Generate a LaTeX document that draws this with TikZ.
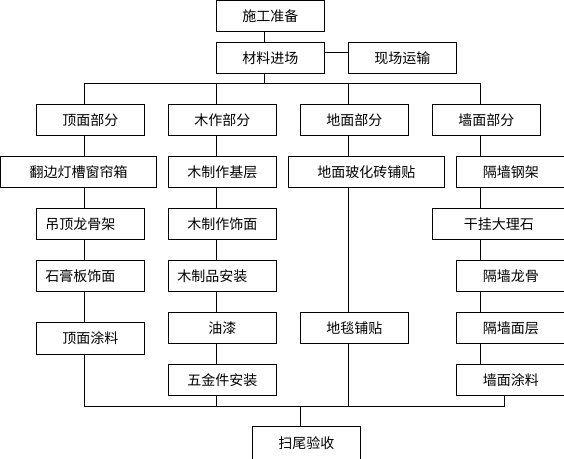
\documentclass[tikz,border=0pt]{standalone}
\usepackage{fontspec}
\setmainfont{Noto Sans CJK SC}
\tikzset{
  box/.style={draw, line width=1pt, inner sep=0pt, font=\fontsize{14}{16}\selectfont},
  lbox/.style={box, text width=90pt, align=left, inner xsep=9pt},
  conn/.style={line width=1pt}
}
% \bx[style]{name}{left}{top}{right}{bottom}{text}
\newcommand{\bx}[7][box]{%
  \node[#1, minimum width={(#5-#3)*1pt}, minimum height={(#6-#4)*1pt}]
    (#2) at ({(#3+#5)/2},{(#4+#6)/2}) {#7};}
\begin{document}
\begin{tikzpicture}[x=1pt,y=-1pt]
\useasboundingbox (0,0) rectangle (564,458);
\begin{scope}
\clip (0,0) rectangle (564,458);
% top
\bx{A}{216.3}{0.6}{324.3}{31.3}{施工准备}
\bx{B}{216.3}{42.3}{324.3}{73.3}{材料进场}
\bx{C}{348.3}{42.3}{456.3}{73.3}{现场运输}
% row 2
\bx{D1}{36.3}{104.3}{144.3}{135.3}{顶面部分}
\bx{D2}{168.3}{104.3}{276.3}{135.3}{木作部分}
\bx{D3}{300.3}{104.3}{408.3}{135.3}{地面部分}
\bx{D4}{432.3}{104.3}{540.3}{135.3}{墙面部分}
% row 3
\bx{E1}{0.6}{156.3}{156.7}{187.3}{翻边灯槽窗帘箱}
\bx{E2}{168.3}{156.3}{276.3}{187.3}{木制作基层}
\bx{E3}{288.3}{156.3}{444.3}{187.3}{地面玻化砖铺贴}
\bx{E4}{456.3}{156.3}{565.5}{187.3}{隔墙钢架}
% row 4
\bx[lbox]{F1}{36.3}{208.3}{144.3}{239.3}{吊顶龙骨架}
\bx{F2}{168.3}{208.3}{276.3}{239.3}{木制作饰面}
\bx{F4}{432.3}{208.3}{565.5}{239.3}{干挂大理石}
% row 5
\bx[lbox]{G1}{36.3}{260.3}{144.3}{291.3}{石膏板饰面}
\bx[lbox]{G2}{168.3}{260.3}{276.3}{291.3}{木制品安装}
\bx{G4}{456.3}{260.3}{565.5}{291.3}{隔墙龙骨}
% row 6
\bx{H1}{36.3}{322.3}{144.3}{354.3}{顶面涂料}
\bx{H2}{168.3}{312.3}{276.3}{343.3}{油漆}
\bx{H3}{300.3}{312.3}{408.3}{343.3}{地毯铺贴}
\bx{H4}{456.3}{312.3}{565.5}{343.3}{隔墙面层}
% row 7
\bx{I2}{168.3}{364.3}{276.3}{395.3}{五金件安装}
\bx{I4}{456.3}{364.3}{565.5}{395.3}{墙面涂料}
% bottom
\bx{J}{252.3}{426.3}{360.3}{459.5}{扫尾验收}
\end{scope}
% guide coordinates
\coordinate (x0) at (264.7,0);
\coordinate (c1) at (84.3,0);
\coordinate (c2) at (216.3,0);
\coordinate (c3) at (348.3,0);
\coordinate (c4) at (480.3,0);
\coordinate (c5) at (504.3,0);
\coordinate (cj) at (300.3,0);
\coordinate (ytop) at (0,83.3);
\coordinate (ybot) at (0,406);
\coordinate (yc) at (0,52.3);
% top connectors
\draw[conn] (A.south -| x0) -- (B.north -| x0);
\draw[conn] (B.east |- yc) -- (C.west |- yc);
\draw[conn] (B.south -| x0) -- (x0 |- ytop);
\draw[conn] (D1.north -| c1) -- (c1 |- ytop) -- (c4 |- ytop) -- (D4.north -| c4);
\draw[conn] (c2 |- ytop) -- (D2.north -| c2);
\draw[conn] (c3 |- ytop) -- (D3.north -| c3);
% column 1
\draw[conn] (D1.south -| c1) -- (E1.north -| c1);
\draw[conn] (E1.south -| c1) -- (F1.north -| c1);
\draw[conn] (F1.south -| c1) -- (G1.north -| c1);
\draw[conn] (G1.south -| c1) -- (H1.north -| c1);
% column 2
\draw[conn] (D2.south -| c2) -- (E2.north -| c2);
\draw[conn] (E2.south -| c2) -- (F2.north -| c2);
\draw[conn] (F2.south -| c2) -- (G2.north -| c2);
\draw[conn] (G2.south -| c2) -- (H2.north -| c2);
\draw[conn] (H2.south -| c2) -- (I2.north -| c2);
% column 3
\draw[conn] (D3.south -| c3) -- (E3.north -| c3);
\draw[conn] (E3.south -| c3) -- (H3.north -| c3);
% column 4
\draw[conn] (D4.south -| c4) -- (E4.north -| c4);
\draw[conn] (E4.south -| c4) -- (F4.north -| c4);
\draw[conn] (F4.south -| c4) -- (G4.north -| c4);
\draw[conn] (G4.south -| c4) -- (H4.north -| c4);
\draw[conn] (H4.south -| c4) -- (I4.north -| c4);
% bottom bus
\draw[conn] (H1.south -| c1) -- (c1 |- ybot) -- (c5 |- ybot) -- (I4.south -| c5);
\draw[conn] (I2.south -| c2) -- (c2 |- ybot);
\draw[conn] (H3.south -| c3) -- (c3 |- ybot);
\draw[conn] (cj |- ybot) -- (J.north -| cj);
\end{tikzpicture}
\end{document}
